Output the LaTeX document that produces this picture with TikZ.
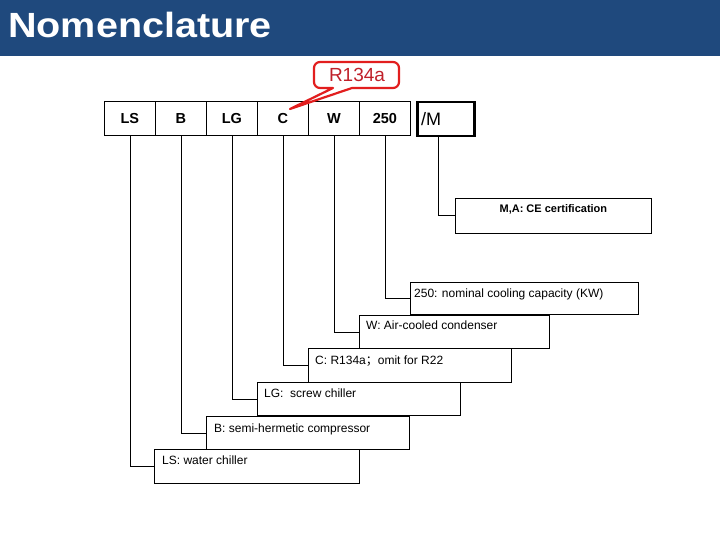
\documentclass[tikz,border=0pt]{standalone}
\usepackage{graphicx}
\usepackage{fontspec}
\setmainfont{Liberation Sans}
\newfontfamily\cjk{Noto Sans CJK SC}
\definecolor{headblue}{HTML}{1F497D}
\definecolor{callred}{HTML}{E21E1E}
\definecolor{calltext}{HTML}{C0202A}
\begin{document}
\begin{tikzpicture}[x=1pt,y=1pt,
  topbox/.style={draw, line width=0.8pt, minimum width=51pt, minimum height=34pt, inner sep=0pt, anchor=north west, font=\fontsize{14.5}{16}\selectfont\bfseries},
  lbox/.style={draw, line width=0.8pt, inner sep=0pt, anchor=north west},
  ltext/.style={anchor=base west, inner sep=0pt, font=\fontsize{12}{14}\selectfont},
  conn/.style={draw, line width=0.8pt}]
\useasboundingbox (0,0) rectangle (720,-540);
\fill[white] (0,0) rectangle (720,-540);
% header
\fill[headblue] (0,0) rectangle (720,-56);
\node[anchor=base west, text=white, inner sep=0pt, font=\fontsize{35}{40}\selectfont\bfseries] (title) at (8,-38) {\scalebox{1.13}[1]{Nomenclature}};
% top row
\node[topbox] (ls) at (104,-101) {LS};
\node[topbox] (b) at (155,-101) {B};
\node[topbox] (lg) at (206,-101) {LG};
\node[topbox] (c) at (257,-101) {C};
\node[topbox] (w) at (308,-101) {W};
\node[topbox] (n250) at (359,-101) {250};
\node[draw, line width=2.5pt, minimum width=57pt, minimum height=34pt, inner sep=0pt, anchor=north west] (m) at (416,-101) {};
\node[anchor=base west, inner sep=0pt, font=\fontsize{18}{20}\selectfont] (mt) at (421,-126) {/M};
% label boxes
\node[lbox, minimum width=196pt, minimum height=35pt] (lm) at (455,-198) {};
\node[lbox, minimum width=228pt, minimum height=32pt] (l250) at (410,-282) {};
\node[lbox, minimum width=190pt, minimum height=33pt] (lw) at (359,-315) {};
\node[lbox, minimum width=203pt, minimum height=34pt] (lc) at (308,-348) {};
\node[lbox, minimum width=203pt, minimum height=33pt] (llg) at (257,-382) {};
\node[lbox, minimum width=203pt, minimum height=33pt] (lb) at (206,-416) {};
\node[lbox, minimum width=205pt, minimum height=34pt] (lls) at (154,-449) {};
% label texts
\node[anchor=base, inner sep=0pt, font=\fontsize{11}{13}\selectfont\bfseries] (tm) at ([yshift=-15pt]lm.north) {M,A: CE certification};
\node[ltext] (t250) at ([shift={(4pt,-15pt)}]l250.north west) {250: nominal cooling capacity (KW)};
\node[ltext] (tw) at ([shift={(7pt,-14pt)}]lw.north west) {W: Air-cooled condenser};
\node[ltext] (tc) at ([shift={(7pt,-16pt)}]lc.north west) {C: R134a{\cjk ；}omit for R22};
\node[ltext] (tlg) at ([shift={(7pt,-15pt)}]llg.north west) {LG:\ \ screw chiller};
\node[ltext] (tb) at ([shift={(8pt,-16pt)}]lb.north west) {B: semi-hermetic compressor};
\node[ltext] (tls) at ([shift={(8pt,-15pt)}]lls.north west) {LS: water chiller};
% connectors
\draw[conn] ([xshift=-7pt]m.south) |- (lm.west);
\draw[conn] (n250.south) |- (l250.west);
\draw[conn] (w.south) |- (lw.west);
\draw[conn] (c.south) |- (lc.west);
\draw[conn] (lg.south) |- (llg.west);
\draw[conn] (b.south) |- (lb.west);
\draw[conn] (ls.south) |- (lls.west);
% callout
\coordinate (ctip) at (290,-109);
\draw[callred, line width=2.2pt, fill=white, line join=round]
  (ctip) -- (333,-88) -- (320,-88) arc[start angle=270, end angle=180, radius=6]
  -- (314,-68) arc[start angle=180, end angle=90, radius=6]
  -- (393,-62) arc[start angle=90, end angle=0, radius=6]
  -- (399,-82) arc[start angle=0, end angle=-90, radius=6]
  -- (352,-88) -- cycle;
\node[text=calltext, inner sep=0pt, font=\fontsize{19}{21}\selectfont] (r134a) at (357,-75) {R134a};
\end{tikzpicture}
\end{document}
